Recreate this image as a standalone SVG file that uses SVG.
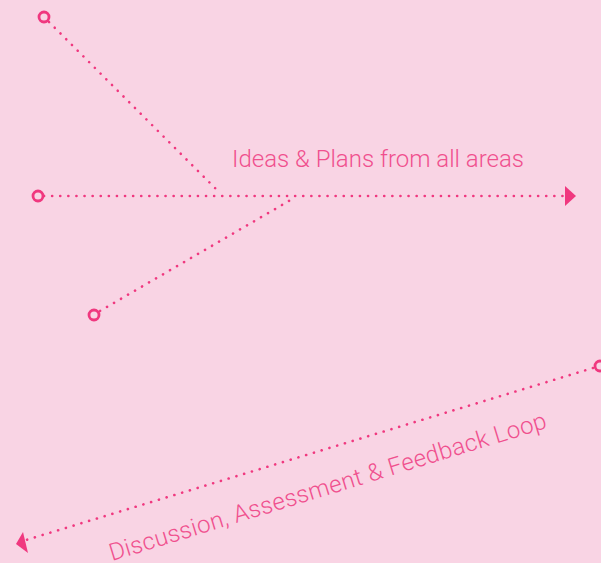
<svg xmlns="http://www.w3.org/2000/svg" width="601" height="563" viewBox="0 0 601 563">
  <style>
    .flow { fill: none; stroke: #F0387F; stroke-width: 2.6; stroke-linecap: round; stroke-dasharray: 0.1 8; }
    .port { fill: none; stroke: #F0387F; stroke-width: 2.8; }
    .head { fill: #F0387F; }
    .label { fill: #F0508E; font-family: Roboto, "Liberation Sans", sans-serif; font-weight: 300; font-size: 24px; }
  </style>
  <rect width="601" height="563" fill="#F9D4E4"/>

  <g id="connectors">
    <line class="flow" x1="49" y1="22" x2="219" y2="192"/>
    <line class="flow" x1="44" y1="196" x2="564" y2="196"/>
    <line class="flow" x1="100" y1="311" x2="294" y2="198"/>
    <line class="flow" x1="593" y1="368" x2="26" y2="540"/>
    <polygon class="head" points="565,186 576,196 565,206"/>
    <polygon class="head" points="16,544 23,532 28,553"/>
  </g>

  <g id="source-top"><circle class="port" cx="44" cy="17" r="5"/></g>
  <g id="source-middle"><circle class="port" cx="38" cy="196" r="5"/></g>
  <g id="source-bottom"><circle class="port" cx="94" cy="315" r="5"/></g>
  <g id="feedback-start"><circle class="port" cx="600" cy="366" r="5"/></g>

  <g id="label-ideas"><text class="label" x="232" y="167" textLength="292">Ideas &amp; Plans from all areas</text></g>
  <g id="label-feedback"><text class="label" transform="translate(112,561) rotate(-17)" textLength="456">Discussion, Assessment &amp; Feedback Loop</text></g>
</svg>
